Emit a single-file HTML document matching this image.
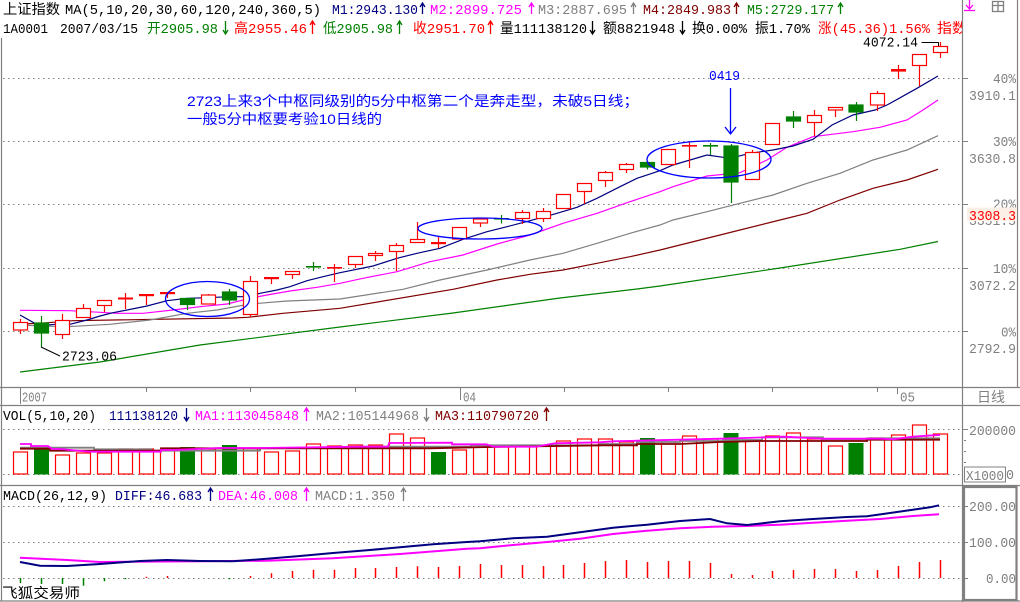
<!DOCTYPE html>
<html><head><meta charset="utf-8"><style>
html,body{margin:0;padding:0;background:#fff;}
svg{display:block;}
text{font-family:"Liberation Mono","Noto Sans CJK SC",monospace;font-size:14px;}
.cj{font-family:"Liberation Sans","Noto Sans CJK SC",sans-serif;}
</style></head><body>
<svg width="1020" height="602" viewBox="0 0 1020 602" xmlns="http://www.w3.org/2000/svg">
<defs><clipPath id="hc"><rect x="0" y="0" width="962" height="40"/></clipPath></defs>
<rect width="1020" height="602" fill="#fff"/>

<!-- frame lines -->
<g stroke="#808080" stroke-width="1.2" fill="none">
<line x1="962.5" y1="0" x2="962.5" y2="602"/>
<line x1="1.5" y1="38" x2="1.5" y2="601"/>
<line x1="1017.5" y1="0" x2="1017.5" y2="387"/>
<line x1="0" y1="387.5" x2="1020" y2="387.5"/>
<line x1="0" y1="405.5" x2="1020" y2="405.5"/>
<line x1="0" y1="485.5" x2="1020" y2="485.5"/>
<line x1="0" y1="601" x2="1020" y2="601"/>
</g>
<rect x="964" y="487" width="52.5" height="113" fill="none" stroke="#808080" stroke-width="2.2"/>

<!-- dotted grid -->
<g stroke="#808080" stroke-width="1" stroke-dasharray="1.5 3.5">
<line x1="3" y1="78.5" x2="962" y2="78.5"/>
<line x1="3" y1="141.5" x2="962" y2="141.5"/>
<line x1="3" y1="204.5" x2="962" y2="204.5"/>
<line x1="3" y1="268.5" x2="962" y2="268.5"/>
<line x1="3" y1="331.5" x2="962" y2="331.5"/>
<line x1="3" y1="429.5" x2="962" y2="429.5"/>
<line x1="3" y1="474.5" x2="962" y2="474.5"/>
<line x1="3" y1="506.5" x2="962" y2="506.5"/>
<line x1="3" y1="542.5" x2="962" y2="542.5"/>
<line x1="3" y1="578.5" x2="962" y2="578.5"/>
</g>
<g stroke="#808080" stroke-width="1">
<line x1="962" y1="78.5" x2="968" y2="78.5"/>
<line x1="962" y1="141.5" x2="968" y2="141.5"/>
<line x1="962" y1="204.5" x2="968" y2="204.5"/>
<line x1="962" y1="268.5" x2="968" y2="268.5"/>
<line x1="962" y1="331.5" x2="968" y2="331.5"/>
<line x1="962" y1="429.5" x2="968" y2="429.5"/>
<line x1="962" y1="506.5" x2="968" y2="506.5"/>
<line x1="962" y1="542.5" x2="968" y2="542.5"/>
<line x1="962" y1="578.5" x2="968" y2="578.5"/>
<line x1="964" y1="440.5" x2="966" y2="440.5"/>
<line x1="964" y1="451.5" x2="966" y2="451.5"/>
<line x1="964" y1="462.5" x2="966" y2="462.5"/>
</g>

<!-- date axis ticks -->
<g stroke="#808080" stroke-width="1">
<line x1="20.5" y1="387" x2="20.5" y2="404"/>
<line x1="460.5" y1="387" x2="460.5" y2="400"/>
<line x1="897.5" y1="387" x2="897.5" y2="394"/>
<line x1="146.5" y1="387" x2="146.5" y2="392"/>
<line x1="250.5" y1="387" x2="250.5" y2="392"/>
<line x1="355.5" y1="387" x2="355.5" y2="392"/>
<line x1="564.5" y1="387" x2="564.5" y2="392"/>
<line x1="668.5" y1="387" x2="668.5" y2="392"/>
<line x1="772.5" y1="387" x2="772.5" y2="392"/>
<line x1="877.5" y1="387" x2="877.5" y2="392"/>
</g>
<g fill="#808080">
<text x="22" y="401.5" textLength="25" lengthAdjust="spacingAndGlyphs">2007</text>
<text x="463" y="401.5" textLength="13" lengthAdjust="spacingAndGlyphs">04</text>
<text x="900" y="401.5" textLength="15" lengthAdjust="spacingAndGlyphs">05</text>
<text x="977" y="402" textLength="28" lengthAdjust="spacingAndGlyphs">日线</text>
</g>

<!-- MA lines main -->
<g fill="none" stroke-width="1.2">
<polyline stroke="#008000" points="20,372 100,362 200,345 340,327 453,313 560,298 637,289 660,286 780,268 900,249.3 938,241.5"/>
<polyline stroke="#800000" points="20,324 40,323.3 73,320.7 233,318 248,317.3 283,313.3 340,308.3 453,289.3 497,280 530,274.3 563,270 597,263.3 630,256.7 660,250 720,235 780,220 807,213.3 840,200 873,188.3 907,180 938,169.3"/>
<polyline stroke="#808080" points="20,325 43,326 67,326.7 110,324.3 150,320 187,313.3 217,310 250,304 287,301 340,299 403,289.3 440,280 487,270 530,260 563,253.3 597,243.3 630,233.3 660,225 673,220 707,211.7 740,203.3 773,195 807,183.3 840,173.3 873,160 907,150 938,135.7"/>
<polyline stroke="#FF00FF" points="20,310.3 70,310.7 100,312.3 117,313.3 143,313.3 173,310 200,306.7 227,304 250,298.3 267,295 290,291 317,287.3 340,283.3 363,278.3 397,271.7 430,261.7 463,255 497,244 530,235 563,223.3 597,213.3 630,201.7 660,191.7 673,186.7 707,176 740,172.7 767,160 787,147.3 813,136.7 853,131.7 880,127.3 907,120 923,110 938,100"/>
<polyline stroke="#000080" points="20,315 39,325.7 55,324.3 70,324.3 87,320 100,316 113,312.7 127,310 147,306 167,300.7 187,298.3 207,297.7 230,296.7 247,296.7 260,293.3 277,290 290,286.7 307,280.7 323,276.7 340,272.7 373,266 397,258.3 417,253.3 440,248.3 463,239.3 487,231.7 507,226.7 530,220.7 557,213.3 577,207.3 597,198.3 620,186.7 637,178.3 660,170.7 673,165 707,155 730,158.3 750,153.3 773,150 793,146 813,139.3 832,125 853,115 875,110 887,105 917,88.3 938,76"/>
</g>

<!-- candles: red hollow -->
<g stroke="#FF0000" stroke-width="1.2" fill="#fff">
<path d="M20.5 319V322.5M20.5 330V334M62.5 314V320.5M62.5 334.5V339M83.5 304V308.5M104.5 305.5V312M125.5 293V309M146.5 294V305M167.5 292V298M208.5 294V295M250.5 276V281.5M250.5 314.5V317M271.5 277V284M292.5 274.5V279M334.5 264V282M355.5 264.5V268M375.5 251V253.5M375.5 255.5V261M396.5 243V245.5M396.5 251.5V271M417.5 222V239.5M438.5 237V248M480.5 223V227M522.5 210V212.5M522.5 218.5V224M543.5 208V211.5M543.5 218.5V222M584.5 191.5V204M605.5 171V172.5M605.5 180.5V187M626.5 163V164.5M626.5 169.5V173M689.5 142V168M752.5 150V152.5M814.5 110V115.5M814.5 122.5V136M835.5 110V117M877.5 91V93.5M877.5 105V111M898.5 65V79M919.5 65.5V86M940.5 42V46.5M940.5 52.5V58"/>
<rect x="13.5" y="322.5" width="14" height="7.5"/>
<rect x="55.5" y="320.5" width="14" height="14"/>
<rect x="76.5" y="308.5" width="14" height="9"/>
<rect x="97.5" y="300.5" width="14" height="5"/>
<rect x="201.5" y="295" width="14" height="9"/>
<rect x="243.5" y="281.5" width="14" height="33"/>
<rect x="285.5" y="271.5" width="14" height="3"/>
<rect x="348.5" y="256.5" width="14" height="8"/>
<rect x="368.5" y="253.5" width="14" height="2"/>
<rect x="389.5" y="245.5" width="14" height="6"/>
<rect x="410.5" y="239.5" width="14" height="3"/>
<rect x="452.5" y="227.5" width="14" height="11.5"/>
<rect x="473.5" y="219" width="14" height="4"/>
<rect x="515.5" y="212.5" width="14" height="6"/>
<rect x="536.5" y="211.5" width="14" height="7"/>
<rect x="556.5" y="194.5" width="14" height="14"/>
<rect x="577.5" y="183.5" width="14" height="8"/>
<rect x="598.5" y="172.5" width="14" height="8"/>
<rect x="619.5" y="164.5" width="14" height="5"/>
<rect x="661.5" y="149.5" width="14" height="15"/>
<rect x="745.5" y="152.5" width="14" height="27"/>
<rect x="765.5" y="123.5" width="14" height="21"/>
<rect x="807.5" y="115.5" width="14" height="7"/>
<rect x="828.5" y="107.5" width="14" height="2.5"/>
<rect x="870.5" y="93.5" width="14" height="11.5"/>
<rect x="912.5" y="54.5" width="14" height="11"/>
<rect x="933.5" y="46.5" width="14" height="6"/>
</g>
<!-- red dashes / crosses -->
<g fill="#FF0000">
<rect x="118" y="297.5" width="15" height="2"/>
<rect x="139" y="294" width="15" height="2.2"/>
<rect x="160" y="292" width="15" height="2.2"/>
<rect x="264" y="277" width="15" height="2.2"/>
<rect x="327" y="267" width="15" height="1.6"/>
<rect x="431" y="242" width="15" height="2.2"/>
<rect x="682" y="145" width="15" height="1.6"/>
<rect x="891" y="69" width="15" height="2.6"/>
</g>
<!-- green candles -->
<g stroke="#008000" stroke-width="1.2" fill="#008000">
<path d="M41.5 316V347M187.5 298V310M229.5 289V305M313.5 262V271M501.5 215V223.5M647.5 162V169.5M710.5 143V155M731.5 144V203M793.5 111V128M856.5 102V121"/>
<rect x="34.5" y="323" width="14" height="10"/>
<rect x="180.5" y="298.5" width="14" height="6"/>
<rect x="222.5" y="292" width="14" height="8"/>
<rect x="640.5" y="162.5" width="14" height="4.5"/>
<rect x="724" y="146" width="14" height="36"/>
<rect x="786.5" y="117" width="14" height="4"/>
<rect x="849" y="105" width="14" height="7"/>
</g>
<g fill="#008000">
<rect x="306" y="266" width="15" height="1.6"/>
<rect x="494" y="218" width="15" height="1.6"/>
<rect x="703" y="145" width="15" height="1.6"/>
</g>

<!-- annotations -->
<g fill="none" stroke="#0000FF" stroke-width="1.3">
<ellipse cx="207.5" cy="299" rx="42" ry="17.5"/>
<ellipse cx="480" cy="228.5" rx="62" ry="10.5"/>
<ellipse cx="709" cy="159.5" rx="62" ry="18.5"/>
<path d="M730.5 88V133.5M725 127L730.5 134L736 127"/>
</g>
<text x="709" y="80" fill="#0000FF" textLength="31" lengthAdjust="spacingAndGlyphs">0419</text>
<text class="cj" x="187" y="106" fill="#0000FF" font-size="15" textLength="452" lengthAdjust="spacingAndGlyphs">2723上来3个中枢同级别的5分中枢第二个是奔走型，未破5日线；</text>
<text class="cj" x="187" y="124" fill="#0000FF" font-size="15" textLength="195" lengthAdjust="spacingAndGlyphs">一般5分中枢要考验10日线的</text>

<g stroke="#000" stroke-width="1" fill="none">
<path d="M41 347L60 356"/>
<path d="M921.5 42.5H938.5V46"/>
</g>
<text x="62" y="360.7" fill="#000" textLength="55" lengthAdjust="spacingAndGlyphs">2723.06</text>
<text x="863" y="46.7" fill="#000" textLength="55" lengthAdjust="spacingAndGlyphs">4072.14</text>

<!-- right axis labels main -->
<g fill="#808080">
<text x="993" y="83" textLength="23" lengthAdjust="spacingAndGlyphs">40%</text>
<text x="969" y="100" textLength="47" lengthAdjust="spacingAndGlyphs">3910.1</text>
<text x="993" y="146" textLength="23" lengthAdjust="spacingAndGlyphs">30%</text>
<text x="969" y="163" textLength="47" lengthAdjust="spacingAndGlyphs">3630.8</text>
<text x="993" y="208.5" textLength="23" lengthAdjust="spacingAndGlyphs">20%</text>
<text x="969" y="225" textLength="47" lengthAdjust="spacingAndGlyphs">3351.5</text>
<text x="993" y="273" textLength="23" lengthAdjust="spacingAndGlyphs">10%</text>
<text x="969" y="290" textLength="47" lengthAdjust="spacingAndGlyphs">3072.2</text>
<text x="1001" y="336.5" textLength="15" lengthAdjust="spacingAndGlyphs">0%</text>
<text x="969" y="353" textLength="47" lengthAdjust="spacingAndGlyphs">2792.9</text>
</g>
<rect x="967" y="207.5" width="50" height="13.5" fill="#FCEFE6"/>
<text x="969" y="220" fill="#FF0000" textLength="47" lengthAdjust="spacingAndGlyphs">3308.3</text>

<!-- header -->
<g clip-path="url(#hc)">
<text x="3" y="14" fill="#000" textLength="57" lengthAdjust="spacingAndGlyphs">上证指数</text>
<text x="65" y="14" fill="#000" textLength="256" lengthAdjust="spacingAndGlyphs">MA(5,10,20,30,60,120,240,360,5)</text>
<text x="332" y="14" fill="#000080" textLength="86" lengthAdjust="spacingAndGlyphs">M1:2943.130</text>
<text x="430" y="14" fill="#FF00FF" textLength="92" lengthAdjust="spacingAndGlyphs">M2:2899.725</text>
<text x="538" y="14" fill="#808080" textLength="89" lengthAdjust="spacingAndGlyphs">M3:2887.695</text>
<text x="643" y="14" fill="#800000" textLength="88" lengthAdjust="spacingAndGlyphs">M4:2849.983</text>
<text x="747" y="14" fill="#008000" textLength="87" lengthAdjust="spacingAndGlyphs">M5:2729.177</text>

<text x="3" y="33" fill="#000" textLength="45" lengthAdjust="spacingAndGlyphs">1A0001</text>
<text x="60" y="33" fill="#000" textLength="78" lengthAdjust="spacingAndGlyphs">2007/03/15</text>
<text x="147" y="33" fill="#008000" textLength="71" lengthAdjust="spacingAndGlyphs">开2905.98</text>
<text x="234" y="33" fill="#FF0000" textLength="73" lengthAdjust="spacingAndGlyphs">高2955.46</text>
<text x="323" y="33" fill="#008000" textLength="70" lengthAdjust="spacingAndGlyphs">低2905.98</text>
<text x="413" y="33" fill="#FF0000" textLength="72" lengthAdjust="spacingAndGlyphs">收2951.70</text>
<text x="500" y="33" fill="#000" textLength="87" lengthAdjust="spacingAndGlyphs">量111138120</text>
<text x="603" y="33" fill="#000" textLength="72" lengthAdjust="spacingAndGlyphs">额8821948</text>
<text x="692" y="33" fill="#000" textLength="55" lengthAdjust="spacingAndGlyphs">换0.00%</text>
<text x="755" y="33" fill="#000" textLength="55" lengthAdjust="spacingAndGlyphs">振1.70%</text>
<text x="818" y="33" fill="#FF0000" textLength="112" lengthAdjust="spacingAndGlyphs">涨(45.36)1.56%</text>
<text x="937" y="33" fill="#FF0000" textLength="30" lengthAdjust="spacingAndGlyphs">指数</text>
</g>
<!-- header arrows -->
<g fill="none" stroke-width="1.3">
<path stroke="#000080" d="M422.5 14V3M420 7L422.5 3L425 7"/>
<path stroke="#FF00FF" d="M531.5 14V3M529 7L531.5 3L534 7"/>
<path stroke="#808080" d="M633.5 14V3M631 7L633.5 3L636 7"/>
<path stroke="#800000" d="M736.5 14V3M734 7L736.5 3L739 7"/>
<path stroke="#008000" d="M840.5 14V3M838 7L840.5 3L843 7"/>
<path stroke="#008000" d="M225.5 21V34M223 30L225.5 34L228 30"/>
<path stroke="#FF0000" d="M312.5 34V21M310 25L312.5 21L315 25"/>
<path stroke="#008000" d="M399.5 34V21M397 25L399.5 21L402 25"/>
<path stroke="#FF0000" d="M490.5 34V21M488 25L490.5 21L493 25"/>
<path stroke="#000" d="M592.5 21V34M590 30L592.5 34L595 30"/>
<path stroke="#000" d="M682.5 21V34M680 30L682.5 34L685 30"/>
</g>
<!-- top right icons -->
<g fill="none" stroke-width="1.3">
<path stroke="#FF00FF" d="M969.5 0V8M966 5L969.5 9L973 5M964 10.5H975"/>
<rect stroke="#808080" x="992.5" y="1.5" width="11" height="10"/>
<path stroke="#808080" d="M992.5 5.5H1003.5M998 1.5V11.5"/>
</g>

<!-- VOL header -->
<text x="3" y="420" fill="#000" textLength="93" lengthAdjust="spacingAndGlyphs">VOL(5,10,20)</text>
<text x="109" y="420" fill="#000080" textLength="69" lengthAdjust="spacingAndGlyphs">111138120</text>
<text x="195" y="420" fill="#FF00FF" textLength="104" lengthAdjust="spacingAndGlyphs">MA1:113045848</text>
<text x="316" y="420" fill="#808080" textLength="103" lengthAdjust="spacingAndGlyphs">MA2:105144968</text>
<text x="435" y="420" fill="#800000" textLength="104" lengthAdjust="spacingAndGlyphs">MA3:110790720</text>
<g fill="none" stroke-width="1.3">
<path stroke="#000080" d="M186.5 408V421M184 417L186.5 421L189 417"/>
<path stroke="#FF00FF" d="M306.5 421V408M304 412L306.5 408L309 412"/>
<path stroke="#808080" d="M426.5 408V421M424 417L426.5 421L429 417"/>
<path stroke="#800000" d="M546.5 421V408M544 412L546.5 408L549 412"/>
</g>

<!-- volume bars -->
<g stroke="#FF0000" stroke-width="1.2" fill="#fff">
<rect x="13.5" y="452" width="14" height="22"/>
<rect x="55.5" y="455" width="14" height="19"/>
<rect x="76.5" y="453" width="14" height="21"/>
<rect x="97.5" y="453" width="14" height="21"/>
<rect x="118.5" y="449" width="14" height="25"/>
<rect x="139.5" y="449" width="14" height="25"/>
<rect x="160.5" y="450" width="14" height="24"/>
<rect x="201.5" y="449" width="14" height="25"/>
<rect x="243.5" y="448" width="14" height="26"/>
<rect x="264.5" y="452" width="14" height="22"/>
<rect x="285.5" y="451" width="14" height="23"/>
<rect x="306.5" y="444" width="14" height="30"/>
<rect x="327.5" y="446" width="14" height="28"/>
<rect x="348.5" y="445" width="14" height="29"/>
<rect x="368.5" y="445" width="14" height="29"/>
<rect x="389.5" y="434" width="14" height="40"/>
<rect x="410.5" y="438" width="14" height="36"/>
<rect x="452.5" y="450" width="14" height="24"/>
<rect x="473.5" y="447" width="14" height="27"/>
<rect x="494.5" y="446" width="14" height="28"/>
<rect x="515.5" y="446" width="14" height="28"/>
<rect x="536.5" y="446" width="14" height="28"/>
<rect x="556.5" y="441" width="14" height="33"/>
<rect x="577.5" y="439" width="14" height="35"/>
<rect x="598.5" y="439" width="14" height="35"/>
<rect x="619.5" y="442" width="14" height="32"/>
<rect x="661.5" y="442" width="14" height="32"/>
<rect x="682.5" y="436" width="14" height="38"/>
<rect x="703.5" y="439" width="14" height="35"/>
<rect x="745.5" y="441" width="14" height="33"/>
<rect x="765.5" y="436" width="14" height="38"/>
<rect x="786.5" y="433" width="14" height="41"/>
<rect x="807.5" y="439" width="14" height="35"/>
<rect x="828.5" y="446" width="14" height="28"/>
<rect x="870.5" y="438" width="14" height="36"/>
<rect x="891.5" y="435" width="14" height="39"/>
<rect x="912.5" y="425" width="14" height="49"/>
<rect x="933.5" y="434" width="14" height="40"/>
</g>
<g fill="#008000">
<rect x="34" y="447.5" width="15" height="27"/>
<rect x="180" y="447" width="15" height="27.5"/>
<rect x="222" y="445" width="15" height="29.5"/>
<rect x="431" y="452" width="15" height="22.5"/>
<rect x="640" y="438" width="15" height="36.5"/>
<rect x="723.5" y="433" width="15" height="41.5"/>
<rect x="848.5" y="443" width="15" height="31.5"/>
</g>
<!-- volume MAs -->
<g fill="none" stroke-width="1.8">
<polyline stroke="#808080" points="20,447.7 94,447.7 94,449.3 151,449.3 151,450.7 260,450.7 260,448 360,448 360,446.7 471,446.7 471,445.3 600,445.3 600,444 637,444 637,442 680,442 680,441 723,441 723,440 762,440 762,437.3 823,437.3 823,439.3 867,439.3 867,438.3 940,438.3"/>
<polyline stroke="#800000" points="20,448.7 50,448.7 50,450.7 161,450.7 161,448.3 430,448.3 490,447 560,446 600,445.3 637,445.3 637,444 680,444 720,442 762,441 867,441 867,439.7 940,439.7"/>
<polyline stroke="#FF00FF" points="20,444 31,444 31,446 48,446 52,449 60,449 89,451.7 161,451.7 161,450 174,450 220,448 260,448 360,446.7 388,446.7 389,443 452,442.7 452,444.3 486,444.3 494,446.7 536,446.7 555,443.3 600,442.3 613,441.3 637,440.7 680,439.7 720,438.7 745,438 783,436.7 823,438.7 880,438.7 893,439.3 913,436.7 933,435.3 940,435"/>
</g>
<g fill="#808080">
<text x="969" y="435" textLength="47" lengthAdjust="spacingAndGlyphs">200000</text>
<text x="966" y="480" textLength="38" lengthAdjust="spacingAndGlyphs">X1000</text>
<text x="1006" y="479" textLength="8" lengthAdjust="spacingAndGlyphs">0</text>
</g>
<rect x="964.5" y="467" width="41" height="15" fill="none" stroke="#808080" stroke-width="1"/>

<!-- MACD header -->
<text x="3" y="500" fill="#000" textLength="104" lengthAdjust="spacingAndGlyphs">MACD(26,12,9)</text>
<text x="115" y="500" fill="#000080" textLength="87" lengthAdjust="spacingAndGlyphs">DIFF:46.683</text>
<text x="218" y="500" fill="#FF00FF" textLength="80" lengthAdjust="spacingAndGlyphs">DEA:46.008</text>
<text x="315" y="500" fill="#808080" textLength="80" lengthAdjust="spacingAndGlyphs">MACD:1.350</text>
<g fill="none" stroke-width="1.3">
<path stroke="#000080" d="M210.5 501V488M208 492L210.5 488L213 492"/>
<path stroke="#FF00FF" d="M306.5 501V488M304 492L306.5 488L309 492"/>
<path stroke="#808080" d="M403.5 501V488M401 492L403.5 488L406 492"/>
</g>

<!-- MACD histogram -->
<g stroke="#008000" stroke-width="1.5">
<path d="M20.5 578V583M41.5 578V584M62.5 578V584M83.5 578V585.7M104.5 578V581.3M125.5 578V579.3M229.5 578V579.3"/>
</g>
<g stroke="#FF0000" stroke-width="1.5">
<path d="M146.5 578V576.7M167.5 578V576M250.5 578V576M271.5 578V573.3M292.5 578V571M313.5 578V569.7M334.5 578V569.7M355.5 578V568M375.5 578V568M396.5 578V567M417.5 578V566.3M438.5 578V567M459.5 578V566M480.5 578V564M501.5 578V565M522.5 578V565M543.5 578V566M563.5 578V565M584.5 578V563M605.5 578V561M626.5 578V560M647.5 578V562M668.5 578V561M689.5 578V561M710.5 578V563M731.5 578V574M752.5 578V575M772.5 578V571M793.5 578V570M814.5 578V569M835.5 578V569M856.5 578V571M877.5 578V570M898.5 578V566M919.5 578V562M940.5 578V560"/>
</g>
<!-- MACD lines -->
<g fill="none" stroke-width="2">
<polyline stroke="#FF00FF" points="20,557.7 67,560 100,562 200,561.3 267,560.7 333,558.3 400,554 467,548.7 480,548.3 513,545 547,542 580,538.7 613,534 647,530.7 680,528.3 713,526.7 747,526 780,524.7 813,522.7 847,520.7 880,519 913,516 939,514.3"/>
<polyline stroke="#000080" points="20,562 40,565.7 67,566 100,564 140,561 167,560 200,561 233,561.3 267,558.7 300,556 333,553 367,550.3 400,547.3 433,544.3 467,542 480,541.3 513,538.3 547,536.7 580,532.3 613,527.7 647,524.7 680,521 710,519 727,523.3 747,525 780,521.3 813,519 847,517 867,516.3 897,512 930,507.3 939,505.3"/>
</g>
<g fill="#808080">
<text x="969" y="511" textLength="47" lengthAdjust="spacingAndGlyphs">200.00</text>
<text x="969" y="547" textLength="47" lengthAdjust="spacingAndGlyphs">100.00</text>
<text x="986" y="583" textLength="30" lengthAdjust="spacingAndGlyphs">0.00</text>
</g>

<text class="cj" x="2" y="598" fill="#000" font-size="15" textLength="78" lengthAdjust="spacingAndGlyphs">飞狐交易师</text>
</svg>
</body></html>
